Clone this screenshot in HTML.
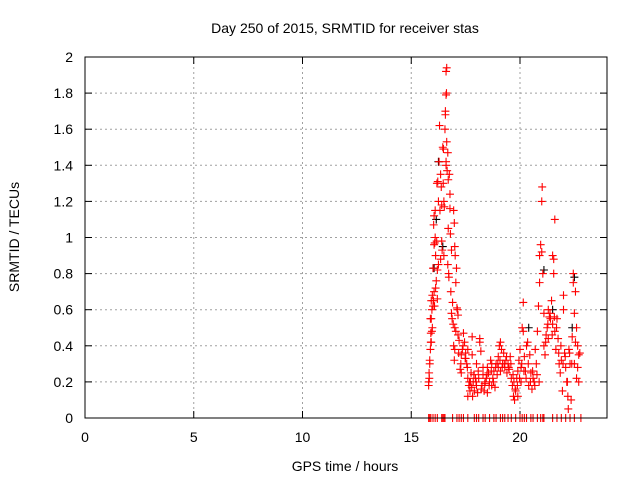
<!DOCTYPE html>
<html><head><meta charset="utf-8"><style>
body{margin:0;background:#fff;}
svg{display:block;font-family:"Liberation Sans",sans-serif;}
</style></head><body>
<svg id="chart" width="640" height="480" viewBox="0 0 640 480" xmlns="http://www.w3.org/2000/svg">
<rect width="640" height="480" fill="#fff"/>
<text x="345" y="33" font-size="14" text-anchor="middle" fill="#000">Day 250 of 2015, SRMTID for receiver stas</text>
<text x="345" y="471" font-size="14" text-anchor="middle" fill="#000">GPS time / hours</text>
<text x="19" y="237" font-size="14" text-anchor="middle" fill="#000" transform="rotate(-90 19 237)">SRMTID / TECUs</text>
<g id="grid"></g><g id="axes"></g><g id="marks"></g>
<rect x="85" y="57" width="522" height="361" fill="none" stroke="#000" stroke-width="1"/>
</svg>
<script>
const xTicks=[0,5,10,15,20];
const yTicks=[0,0.2,0.4,0.6,0.8,1,1.2,1.4,1.6,1.8,2];
const yTickLabels=["0","0.2","0.4","0.6","0.8","1","1.2","1.4","1.6","1.8","2"];
const redTimes=[15.8,15.8,15.82,15.85,15.85,15.88,15.9,15.92,15.9,15.95,15.88,15.92,15.95,15.92,15.97,16.0,16.02,16.05,16.0,16.05,16.08,16.1,16.03,16.05,16.1,16.12,16.15,16.12,16.2,16.2,16.25,16.25,16.18,16.22,16.28,16.3,16.35,16.38,16.4,16.4,16.35,16.42,16.45,16.48,16.5,16.52,16.5,16.55,16.57,16.57,16.6,16.62,16.6,16.63,16.63,16.6,16.6,16.65,16.68,16.7,16.7,16.68,16.72,16.75,16.78,16.78,16.8,16.85,16.82,16.85,16.88,16.9,16.95,16.98,17.0,17.02,17.05,17.08,17.1,17.12,17.15,17.0,17.05,16.95,17.0,16.98,17.15,17.2,17.25,17.3,17.3,17.35,17.4,17.45,17.5,17.5,17.55,17.6,17.6,17.6,17.65,17.7,17.72,17.75,17.8,17.8,17.82,17.85,17.9,17.95,18.0,18.0,18.05,18.1,18.15,18.15,18.2,18.25,18.3,18.3,18.35,18.4,18.45,18.5,18.5,18.55,18.6,18.65,18.7,18.7,18.75,18.8,18.85,18.9,18.95,19.0,19.0,19.05,19.1,19.1,19.15,19.2,19.25,19.3,19.35,19.4,19.45,19.5,19.55,19.6,19.65,19.7,19.72,19.75,19.8,19.85,19.9,19.9,19.95,20.0,20.05,20.05,20.1,20.15,20.15,20.2,20.25,20.3,20.35,20.4,20.45,20.5,20.55,20.6,20.65,20.7,20.75,20.8,20.85,20.9,20.9,20.95,21.0,21.02,21.0,21.05,21.1,21.1,21.15,21.2,21.25,21.3,21.3,21.35,21.4,21.45,21.5,21.5,21.55,21.55,21.6,21.6,21.65,21.7,21.75,21.8,21.85,21.9,21.95,22.0,22.0,22.05,22.1,22.15,22.2,22.22,22.25,22.3,22.35,22.4,22.45,22.45,22.5,22.5,22.55,22.6,22.6,22.65,22.7,22.7,22.75,
15.83,15.97,16.07,16.17,16.32,16.47,16.73,16.93,17.18,17.28,17.38,17.48,17.58,17.68,17.78,17.88,17.98,18.08,18.22,18.38,18.48,18.58,18.68,18.78,18.88,18.98,19.08,19.18,19.28,19.38,19.48,19.58,19.68,19.78,19.88,19.98,20.08,20.18,20.28,20.38,20.48,20.58,20.68,20.78,20.88,21.18,21.28,21.38,21.48,21.58,21.68,21.78,21.88,21.98,22.08,22.18,22.28,22.38,22.55,22.65];
const redValues=[0.18,0.2,0.25,0.3,0.32,0.38,0.42,0.42,0.47,0.48,0.55,0.55,0.6,0.65,0.68,0.62,0.65,0.7,0.83,0.96,0.97,1.0,1.07,1.12,1.15,0.9,0.76,0.72,0.82,0.66,0.85,1.2,1.3,1.31,1.42,1.62,1.35,1.28,1.18,0.98,0.88,0.93,1.5,1.49,1.2,1.17,0.9,1.6,1.7,1.68,1.79,1.8,1.92,1.94,1.53,1.42,1.4,1.37,1.47,1.32,1.05,0.85,0.8,1.35,1.24,1.16,1.02,0.93,0.7,0.58,0.55,0.64,1.15,1.08,0.95,0.9,0.75,0.83,0.61,0.6,0.57,0.5,0.48,0.4,0.38,0.32,0.46,0.43,0.27,0.35,0.25,0.38,0.47,0.42,0.36,0.33,0.3,0.38,0.22,0.12,0.18,0.15,0.2,0.25,0.45,0.35,0.12,0.2,0.15,0.22,0.18,0.3,0.14,0.22,0.44,0.42,0.37,0.18,0.28,0.24,0.15,0.2,0.22,0.28,0.14,0.25,0.2,0.32,0.3,0.18,0.22,0.26,0.17,0.3,0.24,0.28,0.34,0.4,0.42,0.26,0.38,0.3,0.36,0.28,0.32,0.25,0.3,0.27,0.34,0.22,0.18,0.12,0.2,0.1,0.15,0.22,0.26,0.12,0.32,0.38,0.28,0.2,0.5,0.48,0.64,0.34,0.26,0.4,0.42,0.18,0.35,0.25,0.16,0.22,0.2,0.38,0.3,0.48,0.62,0.9,0.75,0.96,1.2,1.28,0.92,0.8,0.58,0.4,0.35,0.46,0.5,0.6,0.44,0.56,0.55,0.65,0.52,0.9,0.88,0.8,1.1,0.48,0.38,0.55,0.44,0.3,0.25,0.32,0.15,0.68,0.6,0.36,0.28,0.2,0.12,0.05,0.38,0.3,0.1,0.45,0.8,0.75,0.58,0.3,0.7,0.5,0.22,0.4,0.35,0.2,0.36,
0.22,0.5,0.62,0.98,1.15,1.3,0.78,0.52,0.36,0.3,0.4,0.33,0.28,0.2,0.17,0.24,0.2,0.26,0.16,0.19,0.24,0.18,0.26,0.2,0.28,0.3,0.32,0.28,0.3,0.34,0.28,0.3,0.24,0.16,0.18,0.22,0.3,0.26,0.22,0.3,0.2,0.26,0.18,0.24,0.2,0.42,0.52,0.58,0.46,0.56,0.5,0.36,0.4,0.3,0.34,0.2,0.36,0.3,0.42,0.28];
const blackTimes=[16.05,16.15,16.25,16.45,20.4,21.1,21.5,22.4,22.5];
const blackValues=[0.83,1.1,1.42,0.95,0.5,0.82,0.6,0.5,0.78];
const zeroTimes=[15.8,15.85,15.9,16.0,16.1,16.2,16.4,16.45,16.5,16.55,16.9,17.1,17.2,17.3,17.4,17.6,17.9,18.0,18.1,18.3,18.4,18.6,18.8,18.9,19.1,19.2,19.3,19.45,19.6,19.8,20.0,20.1,20.2,20.3,20.5,20.6,20.8,20.95,21.05,21.1,21.5,21.7,21.9,22.1,22.3,22.5,22.8];

const NS="http://www.w3.org/2000/svg";
const X0=85,X1=607,Y0=418,Y1=57;
function xs(t){return X0+(t/24)*(X1-X0);}
function ys(v){return Y0-(v/2)*(Y0-Y1);}
function mk(tag,attrs,parent){const e=document.createElementNS(NS,tag);for(const k in attrs)e.setAttribute(k,attrs[k]);parent.appendChild(e);return e;}
const grid=document.getElementById('grid'),axes=document.getElementById('axes'),marks=document.getElementById('marks');
xTicks.forEach(t=>{
  const x=xs(t);
  if(t>0){const g=mk('line',{x1:x,y1:Y1,x2:x,y2:Y0,stroke:'#a0a0a0','stroke-dasharray':'2,3'},grid);
  
  }
  mk('line',{x1:x,y1:Y0,x2:x,y2:Y0-7,stroke:'#000'},axes);
  mk('line',{x1:x,y1:Y1,x2:x,y2:Y1+7,stroke:'#000'},axes);
  const l=mk('text',{x:x,y:442,'font-size':14,'text-anchor':'middle'},axes);l.textContent=t;
  
  
});
yTicks.forEach((v,i)=>{
  const y=ys(v);
  if(v>0&&v<2){const g=mk('line',{x1:X0,y1:y,x2:X1,y2:y,stroke:'#a0a0a0','stroke-dasharray':'2,3'},grid);
  
  }
  mk('line',{x1:X0,y1:y,x2:X0+7,y2:y,stroke:'#000'},axes);
  mk('line',{x1:X1,y1:y,x2:X1-7,y2:y,stroke:'#000'},axes);
  const l=mk('text',{x:73,y:y+5,'font-size':14,'text-anchor':'end'},axes);l.textContent=yTickLabels[i];
  
  
});
function plus(t,v,color,name){
  const x=xs(t),y=ys(v);
  const p=mk('path',{d:`M${x-4},${y}H${x+4}M${x},${y-4}V${y+4}`,stroke:color,'stroke-width':1.1,fill:'none'},marks);
  
  
}
blackTimes.forEach((t,i)=>plus(t,blackValues[i],'#000','black-point'));
redTimes.forEach((t,i)=>plus(t,redValues[i],'#f00','red-point'));
zeroTimes.forEach(t=>plus(t,0,'#f00','zero-point'));
</script>
</body></html>
